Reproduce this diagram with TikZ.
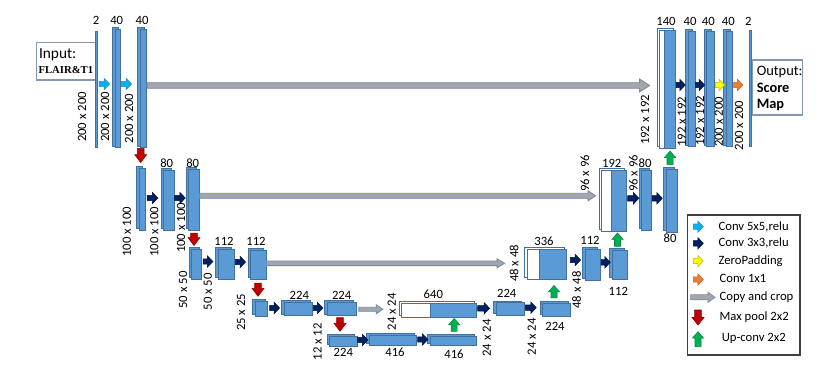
\documentclass[tikz,border=0pt]{standalone}
\usepackage{fontspec}
\setmainfont{Carlito}
\newfontfamily\tnrfont{Liberation Serif}
\usetikzlibrary{calc,fit}
\definecolor{blkF}{HTML}{5B9BD5}
\definecolor{blkD}{HTML}{41719C}
\definecolor{cyanF}{HTML}{00B0F0}
\definecolor{cyanD}{HTML}{2E8BC0}
\definecolor{navyF}{HTML}{002060}
\definecolor{navyD}{HTML}{00103A}
\definecolor{yelF}{HTML}{FFFF00}
\definecolor{yelD}{HTML}{B8B800}
\definecolor{oraF}{HTML}{ED7D31}
\definecolor{oraD}{HTML}{C0622A}
\definecolor{redF}{HTML}{C00000}
\definecolor{redD}{HTML}{8A0000}
\definecolor{grnF}{HTML}{00B050}
\definecolor{grnD}{HTML}{00864A}
\definecolor{cpyF}{HTML}{A6A6A6}
\definecolor{cpyD}{HTML}{6F8CB0}
\definecolor{boxD}{HTML}{8497B0}
\definecolor{legD}{HTML}{404040}

% horizontal block arrow: style, src, tgt, y(px), pad1, pad2, shaft half, head half, head length (px)
\newcommand\HA[9]{\draw[#1] let \p1=(#2), \p2=(#3), \p3=(0,#4) in
 ({\x1+#5*0.75pt},{\y3+#7*0.75pt}) -- ({\x2-#6*0.75pt-#9*0.75pt},{\y3+#7*0.75pt}) -- ({\x2-#6*0.75pt-#9*0.75pt},{\y3+#8*0.75pt}) -- ({\x2-#6*0.75pt},\y3) -- ({\x2-#6*0.75pt-#9*0.75pt},{\y3-#8*0.75pt}) -- ({\x2-#6*0.75pt-#9*0.75pt},{\y3-#7*0.75pt}) -- ({\x1+#5*0.75pt},{\y3-#7*0.75pt}) -- cycle;}
% downward block arrow
\newcommand\VD[9]{\draw[#1] let \p1=(#2), \p2=(#3), \p3=(#4,0) in
 ({\x3-#7*0.75pt},{\y1-#5*0.75pt}) -- ({\x3-#7*0.75pt},{\y2+#6*0.75pt+#9*0.75pt}) -- ({\x3-#8*0.75pt},{\y2+#6*0.75pt+#9*0.75pt}) -- (\x3,{\y2+#6*0.75pt}) -- ({\x3+#8*0.75pt},{\y2+#6*0.75pt+#9*0.75pt}) -- ({\x3+#7*0.75pt},{\y2+#6*0.75pt+#9*0.75pt}) -- ({\x3+#7*0.75pt},{\y1-#5*0.75pt}) -- cycle;}
% upward block arrow
\newcommand\VU[9]{\draw[#1] let \p1=(#2), \p2=(#3), \p3=(#4,0) in
 ({\x3-#7*0.75pt},{\y1+#5*0.75pt}) -- ({\x3-#7*0.75pt},{\y2-#6*0.75pt-#9*0.75pt}) -- ({\x3-#8*0.75pt},{\y2-#6*0.75pt-#9*0.75pt}) -- (\x3,{\y2-#6*0.75pt}) -- ({\x3+#8*0.75pt},{\y2-#6*0.75pt-#9*0.75pt}) -- ({\x3+#7*0.75pt},{\y2-#6*0.75pt-#9*0.75pt}) -- ({\x3+#7*0.75pt},{\y1+#5*0.75pt}) -- cycle;}
\newcommand\sarr[6]{\HA{#1}{#2}{#3}{#4}{#5}{#6}{2.7}{5.7}{5.5}}
\newcommand\redarr[5]{\VD{redA}{#1}{#2}{#3}{#4}{#5}{3.3}{6}{8}}
\newcommand\grnarr[5]{\VU{grnA}{#1}{#2}{#3}{#4}{#5}{3}{5.7}{6.5}}
% blocks
\newcommand\blk[5]{\draw[blk] ({#2-2.5},{#3-1.8}) rectangle ({#4-2.5},{#5-1.8});
 \node[blk, fit={(#2,#3) (#4,#5)}] (#1) {};}
\newcommand\cblk[6]{\draw[wblk] ({#2-2.5},{#5-1.8}) rectangle ({#4-2.5},{#6-1.8});
 \node[wblk, fit={(#2,#5) (#3,#6)}] (#1w) {};
 \node[blk, fit={(#3,#5) (#4,#6)}] (#1) {};}

\begin{document}
\begin{tikzpicture}[x=0.75pt,y=-0.75pt,
  font=\fontsize{9.5}{11}\selectfont,
  blk/.style={draw=blkD, fill=blkF, line width=0.6pt, inner sep=0pt, minimum size=0pt},
  wblk/.style={draw=blkD, fill=white, line width=0.6pt, inner sep=0pt, minimum size=0pt},
  lab/.style={inner sep=0pt},
  vlab/.style={inner sep=0pt, rotate=90},
  ltxt/.style={inner sep=0pt, anchor=base west},
  cyanA/.style={fill=cyanF, draw=cyanD, line width=0.4pt},
  navyA/.style={fill=navyF, draw=navyD, line width=0.4pt},
  yelA/.style={fill=yelF, draw=yelD, line width=0.4pt},
  oraA/.style={fill=oraF, draw=oraD, line width=0.4pt},
  redA/.style={fill=redF, draw=redD, line width=0.4pt},
  grnA/.style={fill=grnF, draw=grnD, line width=0.4pt},
  copyA/.style={fill=cpyF, draw=cpyD, line width=0.6pt},
]
\fill[white] (0,0) rectangle (830,374);
\useasboundingbox (0,0) rectangle (830,374);

% ---------- input / output boxes ----------
\node[draw=boxD, line width=0.8pt, inner sep=0pt, fit={(36.7,42.7) (96.7,80)}] (inbox) {};
\node[ltxt, font=\fontsize{11.5}{13}\selectfont] (intxt) at (38.8,58.3) {Input:};
\node[ltxt, font=\tnrfont\bfseries\fontsize{8}{9}\selectfont] (inmod) at (38.3,74) {FLAIR\&T1};

\node[draw=boxD, line width=0.8pt, inner sep=0pt, fit={(752.7,60) (802.7,115)}] (outbox) {};
\node[ltxt, font=\fontsize{10.8}{12}\selectfont] (outtxt) at (756.5,75.5) {Output:};
\node[ltxt, font=\fontsize{10.8}{12}\selectfont\bfseries] (outs) at (756.5,92.3) {Score};
\node[ltxt, font=\fontsize{10.8}{12}\selectfont\bfseries] (outm) at (756.5,108.7) {Map};

% ---------- encoder ----------
\node[blk, fit={(95,31) (97.3,147)}] (in) {};
\blk{c1a}{115}{29.3}{120.7}{147.7}
\blk{c1b}{140}{29.5}{146.7}{147.7}

\blk{p1}{139.2}{168.5}{145}{230.5}
\blk{c2a}{163.5}{170}{174}{230}
\blk{c2b}{188.5}{169.5}{199.3}{230}

\blk{p2}{191.7}{249.3}{201.7}{279.3}
\blk{c3a}{218.3}{249.3}{234}{279.3}
\blk{c3b}{250.7}{250}{266}{279.3}

\blk{p3}{255}{301}{267.5}{316}
\blk{c4a}{284}{302}{312.7}{315.7}
\blk{c4b}{327.3}{302.3}{356}{315.7}

\blk{p4}{329.5}{336}{357}{346}
\blk{c5a}{369.3}{335.3}{416.7}{345.3}
\blk{c5b}{430}{336}{476.7}{345.5}

% ---------- decoder ----------
\cblk{u4}{401.5}{430}{476.7}{303.3}{317}
\blk{c6a}{496}{302.7}{524}{315}
\blk{c6b}{542.7}{303.3}{570.7}{316}

\cblk{u3}{527}{539.3}{566.7}{249.3}{279.3}
\blk{c7a}{585}{249.3}{600}{280}
\blk{c7b}{612.3}{250}{627.3}{279.3}

\cblk{u2}{601.8}{611.5}{626.7}{170}{231}
\blk{c8a}{641.5}{170.5}{651.7}{230}
\blk{c8b}{666}{169.3}{677.3}{232.3}

\cblk{u1}{659.5}{664.3}{675.7}{30}{148.3}
\blk{c9a}{688.3}{31}{695}{146.7}
\blk{c9b}{706.7}{31}{714}{146.7}
\blk{c9c}{726}{31}{732.7}{146.7}
\node[blk, fit={(749,30) (751.3,146.7)}] (out) {};

% ---------- channel numbers ----------
\node[lab] (n1) at (96,20.5) {2};
\node[lab] (n2) at (116.7,20.5) {40};
\node[lab] (n3) at (142,20.5) {40};
\node[lab] (n4) at (166.7,163) {80};
\node[lab] (n5) at (192.7,163) {80};
\node[lab] (n6) at (224,241.5) {112};
\node[lab] (n7) at (256,241.5) {112};
\node[lab] (n8) at (299.3,295) {224};
\node[lab] (n9) at (341.7,295) {224};
\node[lab] (n10) at (343.3,352) {224};
\node[lab] (n11) at (395,352.5) {416};
\node[lab] (n12) at (454,354) {416};
\node[lab] (n13) at (433.3,294) {640};
\node[lab] (n14) at (506.7,293.5) {224};
\node[lab] (n15) at (555,326.7) {224};
\node[lab] (n16) at (544,241.5) {336};
\node[lab] (n17) at (590,240.7) {112};
\node[lab] (n18) at (618.3,291.7) {112};
\node[lab] (n19) at (611.7,163.3) {192};
\node[lab] (n20) at (645,163.3) {80};
\node[lab] (n21) at (670,238.3) {80};
\node[lab] (n22) at (666,21.5) {140};
\node[lab] (n23) at (690,21.5) {40};
\node[lab] (n24) at (708.3,21.5) {40};
\node[lab] (n25) at (728.3,21.5) {40};
\node[lab] (n26) at (748.3,21.5) {2};

% ---------- sizes ----------
\node[vlab] (r1) at (82,117) {200 x 200};
\node[vlab] (r2) at (105,117) {200 x 200};
\node[vlab] (r3) at (129,118.5) {200 x 200};
\node[vlab] (r4) at (126.7,231.7) {100 x 100};
\node[vlab] (r5) at (154.3,231.7) {100 x 100};
\node[vlab] (r6) at (181,228) {100 x 100};
\node[vlab] (r7) at (183,290) {50 x 50};
\node[vlab] (r8) at (207.7,291.7) {50 x 50};
\node[vlab] (r9) at (241,312.5) {25 x 25};
\node[vlab] (r10) at (317.5,341.7) {12 x 12};
\node[vlab] (r11) at (391.7,311.7) {24 x 24};
\node[vlab] (r12) at (486.7,338) {24 x 24};
\node[vlab] (r13) at (531.7,336.7) {24 x 24};
\node[vlab] (r14) at (514,263.3) {48 x 48};
\node[vlab] (r15) at (576.7,290) {48 x 48};
\node[vlab] (r16) at (585,173.3) {96 x 96};
\node[vlab] (r17) at (633.3,173.3) {96 x 96};
\node[vlab] (r18) at (645,120) {192 x 192};
\node[vlab] (r19) at (681.7,121.7) {192 x 192};
\node[vlab] (r20) at (700,121) {192 x 192};
\node[vlab] (r21) at (718.7,122) {200 x 200};
\node[vlab] (r22) at (739,125.5) {200 x 200};

% ---------- copy and crop ----------
\HA{copyA}{c1b.east}{u1w.west}{85.5}{0}{9.5}{2.8}{6.5}{10}
\HA{copyA}{c2b.east}{u2w.west}{195.8}{0}{5.8}{2.5}{5}{7.5}
\HA{copyA}{c3b.east}{u3w.west}{263.3}{0}{22}{2.3}{4.5}{7.5}
\HA{copyA}{c4b.east}{u4w.west}{309.3}{2.3}{18.2}{2}{4.5}{6.7}

% ---------- convolutions ----------
\sarr{cyanA}{in.east}{c1a.west}{84}{1.4}{5}
\sarr{cyanA}{c1a.east}{c1b.west}{84}{0.3}{8}
\sarr{navyA}{p1.east}{c2a.west}{198}{1.7}{5.2}
\sarr{navyA}{c2a.east}{c2b.west}{198}{0.3}{2.8}
\sarr{navyA}{p2.east}{c3a.west}{261.5}{1}{5}
\sarr{navyA}{c3a.east}{c3b.west}{262}{1}{4.7}
\sarr{navyA}{p3.east}{c4a.west}{308}{1.8}{4}
\sarr{navyA}{c4a.east}{c4b.west}{308}{0.3}{4}
\sarr{navyA}{p4.east}{c5a.west}{340}{0.3}{1}
\sarr{navyA}{c5a.east}{c5b.west}{339.5}{0.6}{1.7}
\sarr{navyA}{u4.east}{c6a.west}{308.3}{0.6}{6}
\sarr{navyA}{c6a.east}{c6b.west}{307.7}{1}{6}
\sarr{navyA}{u3.east}{c7a.west}{260}{3.3}{4}
\sarr{navyA}{c7a.east}{c7b.west}{262.3}{0.7}{1.6}
\sarr{navyA}{u2.east}{c8a.west}{198.3}{0.6}{2.2}
\sarr{navyA}{c8a.east}{c8b.west}{198.3}{0}{3.3}
\sarr{navyA}{u1.east}{c9a.west}{85}{0}{2.6}
\sarr{navyA}{c9a.east}{c9b.west}{85}{0}{1.7}
\sarr{yelA}{c9b.east}{c9c.west}{85}{1}{1}
\sarr{oraA}{c9c.east}{out.west}{85}{0.6}{5.7}

% ---------- max pool ----------
\redarr{c1b.south}{p1.north}{140.7}{0.3}{5.5}
\redarr{c2b.south}{p2.north}{194}{2.7}{3.3}
\redarr{c3b.south}{p3.north}{258}{3.4}{4.3}
\redarr{c4b.south}{p4.north}{340}{1.6}{4.3}

% ---------- up-conv ----------
\grnarr{c5b.north}{u4.south}{454.2}{4.3}{1}
\grnarr{c6b.north}{u3.south}{554}{5}{5.7}
\grnarr{c7b.north}{u2.south}{617.5}{3.3}{1.5}
\grnarr{c8b.north}{u1.south}{670}{4.3}{2.4}

% ---------- legend ----------
\node[draw=legD, line width=0.8pt, inner sep=0pt, fit={(687.3,215) (800,355)}] (legend) {};
\coordinate (k1a) at (693.3,226.7); \coordinate (k1b) at (703.3,226.7);
\coordinate (k2a) at (693.3,243.3); \coordinate (k2b) at (703.3,243.3);
\coordinate (k3a) at (693.3,261);   \coordinate (k3b) at (703.3,261);
\coordinate (k4a) at (693.3,279.5); \coordinate (k4b) at (703.3,279.5);
\coordinate (k5a) at (690.7,297.3); \coordinate (k5b) at (715,297.3);
\coordinate (k6a) at (698,310);     \coordinate (k6b) at (698,325);
\coordinate (k7a) at (698,346.7);   \coordinate (k7b) at (698,331.7);
\sarr{cyanA}{k1a}{k1b}{226.7}{0}{0}
\sarr{navyA}{k2a}{k2b}{243.3}{0}{0}
\sarr{yelA}{k3a}{k3b}{261}{0}{0}
\sarr{oraA}{k4a}{k4b}{279.5}{0}{0}
\HA{copyA}{k5a}{k5b}{297.3}{0}{0}{2.5}{5}{7}
\VD{redA}{k6a}{k6b}{698}{0}{0}{3.3}{6}{7.5}
\VU{grnA}{k7a}{k7b}{698}{0}{0}{3}{5.7}{6.5}
\node[ltxt] (k1t) at (718.3,230) {Conv 5x5,relu};
\node[ltxt] (k2t) at (718.3,246.7) {Conv 3x3,relu};
\node[ltxt] (k3t) at (718.3,264) {ZeroPadding};
\node[ltxt] (k4t) at (719.3,282.7) {Conv 1x1};
\node[ltxt] (k5t) at (719.3,300) {Copy and crop};
\node[ltxt] (k6t) at (719.3,320) {Max pool 2x2};
\node[ltxt] (k7t) at (721.5,341.7) {Up-conv 2x2};
\end{tikzpicture}
\end{document}
